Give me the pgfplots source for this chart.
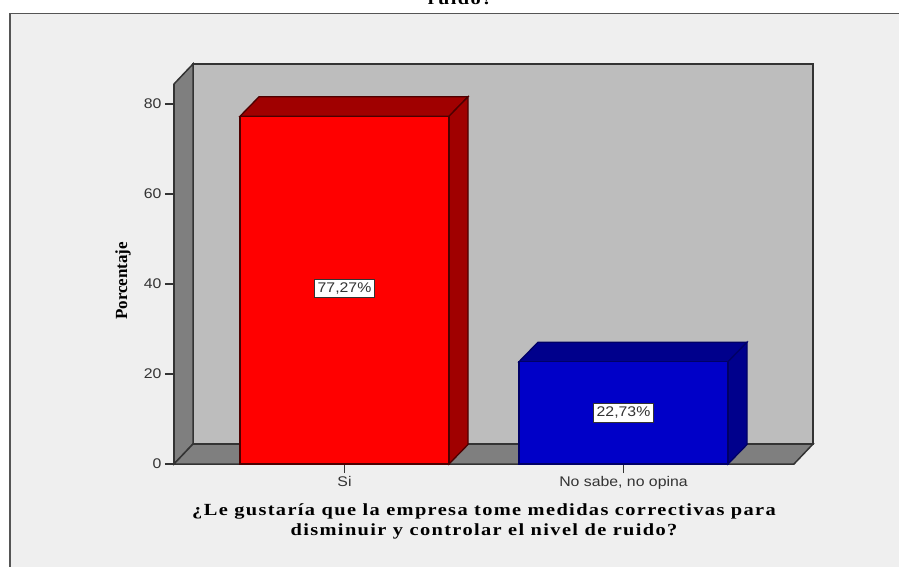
\documentclass[border=0pt]{standalone}
\usepackage{fontspec}
\setmainfont[FakeStretch=1.13]{Liberation Sans}
\newfontfamily\labelfont[FakeStretch=1.2,LetterSpace=8]{Liberation Serif}
\newfontfamily\ylabelfont{Liberation Serif}
\usepackage{pgfplots}
\pgfplotsset{compat=1.18}
\definecolor{panel}{HTML}{EFEFEF}
\definecolor{wall}{HTML}{BDBDBD}
\definecolor{sidewall}{HTML}{7F7F7F}
\definecolor{edge}{HTML}{333333}
\definecolor{framec}{HTML}{555555}
\definecolor{redtop}{HTML}{A00000}
\definecolor{bluefront}{HTML}{0000C8}
\definecolor{bluetop}{HTML}{00008C}
\definecolor{txt}{HTML}{333333}
\begin{document}
\begin{tikzpicture}[x=1pt,y=-1pt]
\useasboundingbox (0,0) rectangle (899,567);
\fill[white] (0,0) rectangle (899,567);
\fill[panel] (10,13.5) rectangle (899,567);
\draw[framec,line width=1.8pt] (10,567) -- (10,13.5) -- (899,13.5);
\node[anchor=base,font=\labelfont\bfseries\fontsize{17}{20}\selectfont,text=black] at (460,4.5) {ruido?};
\begin{axis}[
  at={(174pt,-464pt)}, anchor=south west,
  scale only axis, width=620pt, height=380pt,
  xmin=-0.6111, xmax=1.6111, ymin=0, ymax=84.44,
  clip=false,
  axis x line*=bottom, axis y line*=left,
  axis line style={-,edge,line width=1.5pt},
  xtick={0,1}, xticklabels={Si,{No sabe, no opina}},
  ytick={0,20,40,60,80},
  tick align=outside, major tick length=9pt,
  tick style={edge,line width=1.3pt},
  /pgf/number format/assume math mode=true,
  tick label style={font=\fontsize{14}{15}\selectfont,text=txt},
  xlabel={¿Le gustaría que la empresa tome medidas correctivas para\\disminuir y controlar el nivel de ruido?},
  xlabel style={align=center,font=\labelfont\bfseries\fontsize{17}{20}\selectfont,text=black,at={(axis description cs:0.5,0)},anchor=north,yshift=-36pt},
  ylabel={Porcentaje},
  ylabel style={font=\ylabelfont\bfseries\fontsize{17}{20}\selectfont,text=black,at={(axis description cs:-0.082,0.482)},anchor=center},
]
% walls and floor
\addplot[fill=wall,draw=edge,line width=1.5pt] coordinates {(-0.543,4.444) (1.6792,4.444) (1.6792,88.89) (-0.543,88.89)} -- cycle;
\addplot[fill=sidewall,draw=edge,line width=1.5pt] coordinates {(-0.6111,0) (-0.6111,84.44) (-0.543,88.89) (-0.543,4.444)} -- cycle;
\addplot[fill=sidewall,draw=edge,line width=1.5pt] coordinates {(-0.6111,0) (-0.543,4.444) (1.6792,4.444) (1.6111,0)} -- cycle;
% red bar
\addplot[fill=redtop,draw=black!70!red,line width=1.3pt] coordinates {(-0.3746,77.27) (0.3746,77.27) (0.4427,81.6) (-0.3065,81.6)} -- cycle;
\addplot[fill=redtop,draw=black!70!red,line width=1.3pt] coordinates {(0.3746,0) (0.3746,77.27) (0.4427,81.6) (0.4427,4.333)} -- cycle;
\addplot[ybar,bar shift=0pt,bar width=209pt,fill=red,draw=black!70!red,line width=1.3pt] coordinates {(0,77.27)};
% blue bar
\addplot[fill=bluetop,draw=black!60!blue,line width=1.3pt] coordinates {(0.6254,22.73) (1.3746,22.73) (1.4427,27.06) (0.6935,27.06)} -- cycle;
\addplot[fill=bluetop,draw=black!60!blue,line width=1.3pt] coordinates {(1.3746,0) (1.3746,22.73) (1.4427,27.06) (1.4427,4.333)} -- cycle;
\addplot[ybar,bar shift=0pt,bar width=209pt,fill=bluefront,draw=black!60!blue,line width=1.3pt] coordinates {(1,22.73)};
% value labels
\node[fill=white,draw=edge,line width=0.8pt,inner xsep=3pt,inner ysep=3.5pt,text=txt,font=\fontsize{14}{15}\selectfont] at (axis cs:0,39) {77,27\%};
\node[fill=white,draw=edge,line width=0.8pt,inner xsep=3pt,inner ysep=3.5pt,text=txt,font=\fontsize{14}{15}\selectfont] at (axis cs:1,11.4) {22,73\%};
\end{axis}
\end{tikzpicture}
\end{document}
